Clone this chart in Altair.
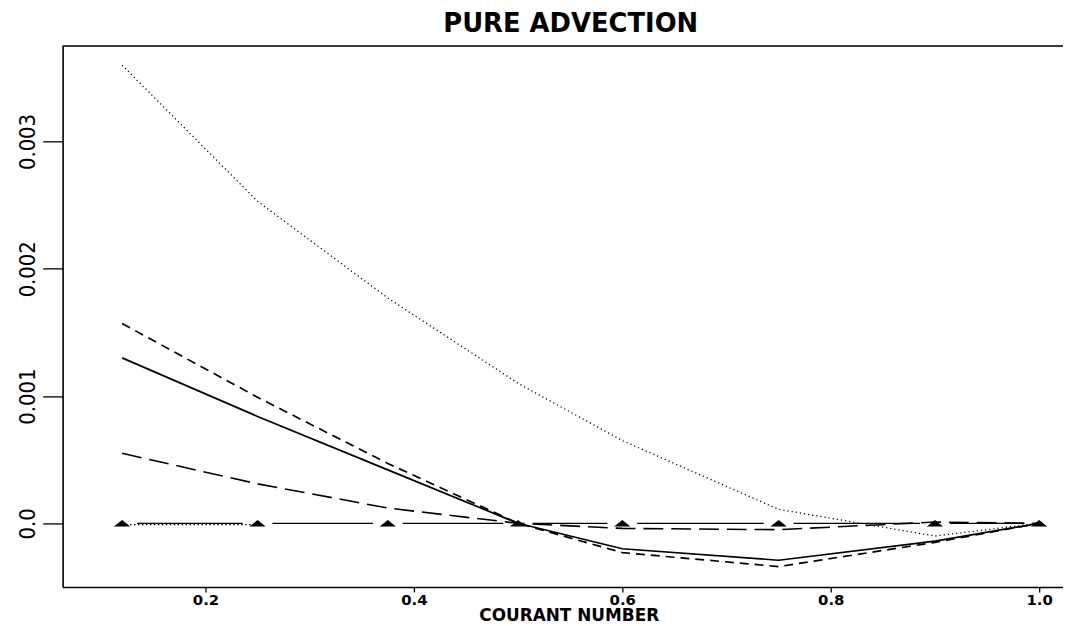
import altair as alt
import pandas as pd

# Courant numbers (x positions of the computed points)
courant = [0.12, 0.25, 0.375, 0.5, 0.6, 0.75, 0.9, 1.0]

# Series values
dotted = [0.00360, 0.00253, 0.00177, 0.00110, 0.00065, 0.00011, -0.00010, 0.0]
short_dash = [0.00157, 0.00099, 0.00047, 0.0, -0.00023, -0.00034, -0.00015, 0.0]
solid = [0.00130, 0.00084, 0.00042, 0.0, -0.00020, -0.00029, -0.00014, 0.0]
long_dash = [0.00055, 0.00031, 0.00012, 0.0, -0.00004, -0.00005, 0.00001, 0.0]
triangles = [0.0, 0.0, 0.0, 0.0, 0.0, 0.0, 0.0, 0.0]

# short dotted stretch visible just under the zero line at the left end
dot_zero_x = [0.12, 0.25]
dot_zero_y = [-0.00001, -0.00001]

x_ticks = [0.2, 0.4, 0.6, 0.8, 1.0]
y_ticks = [0.0, 0.001, 0.002, 0.003]

rows = []
for name, vals in [("dotted", dotted), ("short", short_dash), ("solid", solid),
                   ("long", long_dash), ("tri", triangles)]:
    for c, v in zip(courant, vals):
        rows.append({"courant": c, "value": v, "series": name})
for c, v in zip(dot_zero_x, dot_zero_y):
    rows.append({"courant": c, "value": v, "series": "dotzero"})
df = pd.DataFrame(rows)

W, H = 1008, 545

xenc = alt.X(
    "courant:Q",
    scale=alt.Scale(domain=[0.0629, 1.0229], nice=False, zero=False),
    axis=alt.Axis(
        values=x_ticks, format=".1f", grid=False, tickSize=5, tickWidth=1.3,
        domainWidth=1.6, domainColor="black", tickColor="black",
        labelFont="DejaVu Sans", labelFontWeight="bold", labelFontSize=15,
        labelColor="black", labelPadding=1, labelOverlap=False,
        title="COURANT NUMBER", titleFont="DejaVu Sans", titleFontWeight="bold",
        titleFontSize=17, titleColor="black", titleX=510, titleY=34,
        titleAlign="center", titleBaseline="alphabetic", titleAnchor="start",
    ),
)
yenc = alt.Y(
    "value:Q",
    scale=alt.Scale(domain=[-0.0005, 0.00375], nice=False, zero=False),
    axis=alt.Axis(
        values=y_ticks, grid=False, tickSize=20, tickWidth=1.3,
        domainWidth=1.6, domainColor="black", tickColor="black",
        labelExpr="datum.value == 0 ? '0.0' : format(datum.value, '.3f')",
        labelFont="Liberation Sans Narrow, DejaVu Sans Condensed, Liberation Sans",
        labelFontSize=22, labelColor="black", labelAngle=270,
        labelAlign="center", labelBaseline="alphabetic", labelPadding=8,
        labelOverlap=False, title=None,
    ),
)

base = alt.Chart(df).encode(x=xenc, y=yenc)

def sel(name):
    return alt.datum.series == name

tri_line = base.transform_filter(sel("tri")).mark_line(
    color="black", strokeWidth=1.3, clip=True)
tri_gap = base.transform_filter(sel("tri")).mark_point(
    shape="M-1,-0.25L1,-0.25L1,0.25L-1,0.25Z", size=900, filled=True,
    color="white", opacity=1, clip=True)
dot_zero = base.transform_filter(sel("dotzero")).mark_line(
    color="black", strokeWidth=1.3, strokeDash=[1.5, 2.5], clip=True)
long_l = base.transform_filter(sel("long")).mark_line(
    color="black", strokeWidth=1.6, strokeDash=[20, 8], clip=True)
solid_l = base.transform_filter(sel("solid")).mark_line(
    color="black", strokeWidth=1.7, clip=True)
short_l = base.transform_filter(sel("short")).mark_line(
    color="black", strokeWidth=1.7, strokeDash=[9, 6], clip=True)
dotted_l = base.transform_filter(sel("dotted")).mark_line(
    color="black", strokeWidth=1.3, strokeDash=[1.2, 3], clip=True)
tri_pts = base.transform_filter(sel("tri")).mark_point(
    shape="M-1,0.4L1,0.4L0,-0.4Z", size=270, filled=True,
    color="black", opacity=1, clip=True)

top_frame = alt.Chart(pd.DataFrame({"k": [0]})).mark_rule(
    color="black", strokeWidth=1.6).encode(
    x=alt.value(0), x2=alt.value(W), y=alt.value(0))

chart = alt.layer(
    tri_line, tri_gap, dot_zero, long_l, solid_l, short_l, dotted_l, tri_pts, top_frame
).properties(
    width=W, height=H,
    title=alt.TitleParams(
        text="PURE ADVECTION", font="DejaVu Sans", fontWeight="bold",
        fontSize=26, color="black", anchor="middle", offset=8, dx=8,
    ),
    autosize=alt.AutoSizeParams(type="none"),
    padding={"left": 55, "top": 36, "right": 0, "bottom": 37},
).configure_view(stroke=None).configure(background="white")

chart.save("out.html", embed_options={"renderer": "svg", "actions": False})
